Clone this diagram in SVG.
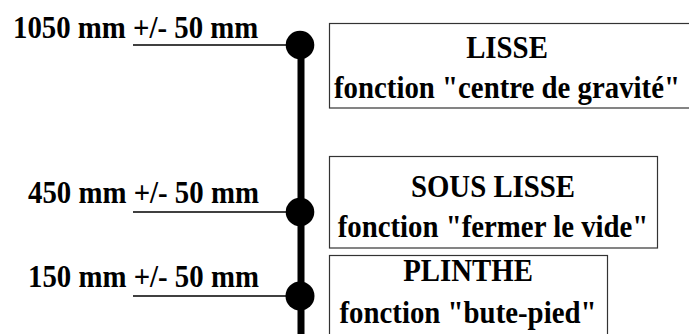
<svg xmlns="http://www.w3.org/2000/svg" width="689" height="334" viewBox="0 0 689 334">
  <style>
    .lbl { font-family: "Liberation Serif", "Times New Roman", serif; font-weight: bold; font-size: 31px; fill: #000; }
    .box { fill: #fff; stroke: #333; stroke-width: 1.2; }
    .tick { stroke: #000; stroke-width: 1.3; fill: none; }
    .dot { fill: #000; }
  </style>
  <rect width="689" height="334" fill="#fff"/>

  <!-- vertical post and level ticks -->
  <g id="connectors">
    <line x1="301" y1="45" x2="301" y2="334" stroke="#000" stroke-width="7"/>
    <line class="tick" x1="133" y1="45" x2="290" y2="45"/>
    <line class="tick" x1="133" y1="212" x2="290" y2="212"/>
    <line class="tick" x1="133" y1="296" x2="290" y2="296"/>
    <circle class="dot" cx="300" cy="45" r="14.3"/>
    <circle class="dot" cx="300" cy="212" r="14.3"/>
    <circle class="dot" cx="300" cy="296" r="14.5"/>
  </g>

  <!-- height labels (condensed serif) -->
  <g id="h1050" transform="translate(13,38) scale(0.93,1)"><text class="lbl">1050 mm +/- 50 mm</text></g>
  <g id="h450" transform="translate(28,203) scale(0.93,1)"><text class="lbl">450 mm +/- 50 mm</text></g>
  <g id="h150" transform="translate(28,287) scale(0.93,1)"><text class="lbl">150 mm +/- 50 mm</text></g>

  <!-- rail boxes -->
  <g id="lisse">
    <rect class="box" x="329.5" y="23.5" width="365" height="84.5"/>
    <g transform="translate(507,58) scale(0.93,1)"><text class="lbl" text-anchor="middle">LISSE</text></g>
    <g transform="translate(507,98) scale(0.93,1)"><text class="lbl" text-anchor="middle">fonction "centre de gravité"</text></g>
  </g>
  <g id="sous-lisse">
    <rect class="box" x="329.5" y="156.5" width="328" height="91.5"/>
    <g transform="translate(493,197) scale(0.93,1)"><text class="lbl" text-anchor="middle">SOUS LISSE</text></g>
    <g transform="translate(493,237) scale(0.93,1)"><text class="lbl" text-anchor="middle">fonction "fermer le vide"</text></g>
  </g>
  <g id="plinthe">
    <rect class="box" x="329.5" y="255.5" width="278" height="90"/>
    <g transform="translate(468,281) scale(0.93,1)"><text class="lbl" text-anchor="middle">PLINTHE</text></g>
    <g transform="translate(468,323) scale(0.93,1)"><text class="lbl" text-anchor="middle">fonction "bute-pied"</text></g>
  </g>
</svg>
